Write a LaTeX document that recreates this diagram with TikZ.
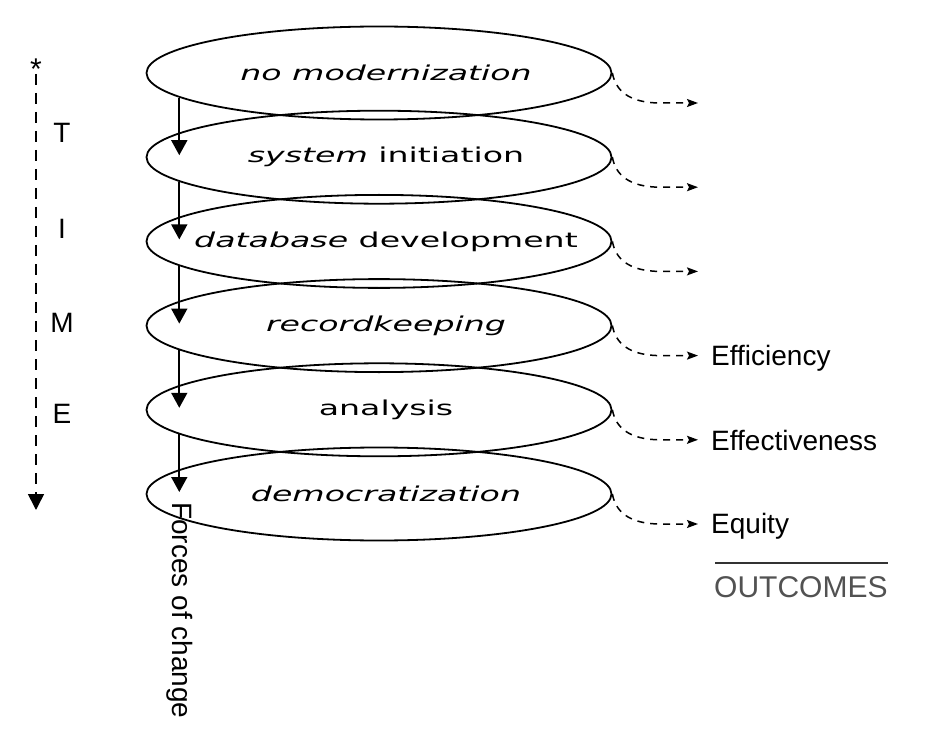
\documentclass[tikz,border=0pt]{standalone}
\usepackage{fontspec}
\setmainfont{Liberation Sans}
\newfontfamily\ellfont[FakeStretch=1.62]{DejaVu Sans}
\usetikzlibrary{arrows.meta,shapes.geometric}
\begin{document}
\begin{tikzpicture}[x=1pt,y=-1pt,
  ell/.style={draw, ellipse, line width=1.8pt, minimum width=465pt, minimum height=93pt, inner sep=0pt},
  lab/.style={font=\fontsize{20.5}{23}\ellfont, inner sep=0pt},
  big/.style={font=\fontsize{28}{32}\selectfont, inner sep=0pt},
  force/.style={-{Triangle[length=15pt,width=16pt]}, line width=1.7pt},
  timearr/.style={-{Triangle[length=16pt,width=16pt]}, line width=1.6pt, dash pattern=on 11pt off 8pt},
  outarr/.style={-{Stealth[length=11pt,width=8pt,inset=2pt]}, line width=1.5pt, dash pattern=on 7pt off 6pt},
]
\useasboundingbox (0,0) rectangle (929,754);

% ellipses
\node[ell] (e1) at (379,73) {};
\node[ell] (e2) at (379,157.2) {};
\node[ell] (e3) at (379,241.4) {};
\node[ell] (e4) at (379,325.6) {};
\node[ell] (e5) at (379,409.8) {};
\node[ell] (e6) at (379,494) {};

% labels
\node[lab] (l1) at (386,73) {\itshape no modernization};
\node[lab] (l2) at (386,157.2) {{\itshape system} initiation};
\node[lab] (l3) at (386,241.4) {{\itshape database} development};
\node[lab] (l4) at (386,325.6) {\itshape recordkeeping};
\node[lab] (l5) at (386,409.8) {analysis};
\node[lab] (l6) at (386,494) {\itshape democratization};

% forces of change arrows
\coordinate (t2) at (181.4,155.2);
\coordinate (t3) at (181.4,239.4);
\coordinate (t4) at (181.4,323.6);
\coordinate (t5) at (181.4,407.8);
\coordinate (t6) at (181.4,492);
\draw[force] (e1.187.07) -- (e1.187.07 |- t2);
\draw[force] (e2.187.07) -- (e2.187.07 |- t3);
\draw[force] (e3.187.07) -- (e3.187.07 |- t4);
\draw[force] (e4.187.07) -- (e4.187.07 |- t5);
\draw[force] (e5.187.07) -- (e5.187.07 |- t6);
\node[big, rotate=-90, anchor=base west] (foc) at (172,502) {Forces of change};

% time arrow
\node[font=\fontsize{30}{34}\selectfont, inner sep=0pt, anchor=base] (star) at (36,80) {*};
\coordinate (ts) at (36,74);
\coordinate (te) at (36,510);
\draw[timearr] (ts) -- (te);
\node[big, anchor=base] (tT) at (62,143) {T};
\node[big, anchor=base] (tI) at (62,239) {I};
\node[big, anchor=base] (tM) at (62,332) {M};
\node[big, anchor=base] (tE) at (62,423) {E};

% outcome arrows
\coordinate (o1) at (698,103);
\coordinate (o2) at (698,187.2);
\coordinate (o3) at (698,271.4);
\coordinate (o4) at (698,355.6);
\coordinate (o5) at (698,439.8);
\coordinate (o6) at (698,524);
\foreach \i in {1,...,6}{
  \draw[outarr] (e\i.east) .. controls +(3,17) and +(-32,0) .. +(48,30) -- (o\i);
}

% outcomes
\node[big, anchor=base west] (eff) at (711,365) {Efficiency};
\node[big, anchor=base west] (efv) at (711,450) {Effectiveness};
\node[big, anchor=base west] (equ) at (711,533) {Equity};
\coordinate (ul) at (715,563);
\coordinate (ur) at (888,563);
\draw[line width=1.6pt, color=black!80] (ul) -- (ur);
\node[font=\fontsize{30}{34}\selectfont, inner sep=0pt, anchor=base west, text=black!68] (outc) at (714,597) {OUTCOMES};
\end{tikzpicture}
\end{document}
